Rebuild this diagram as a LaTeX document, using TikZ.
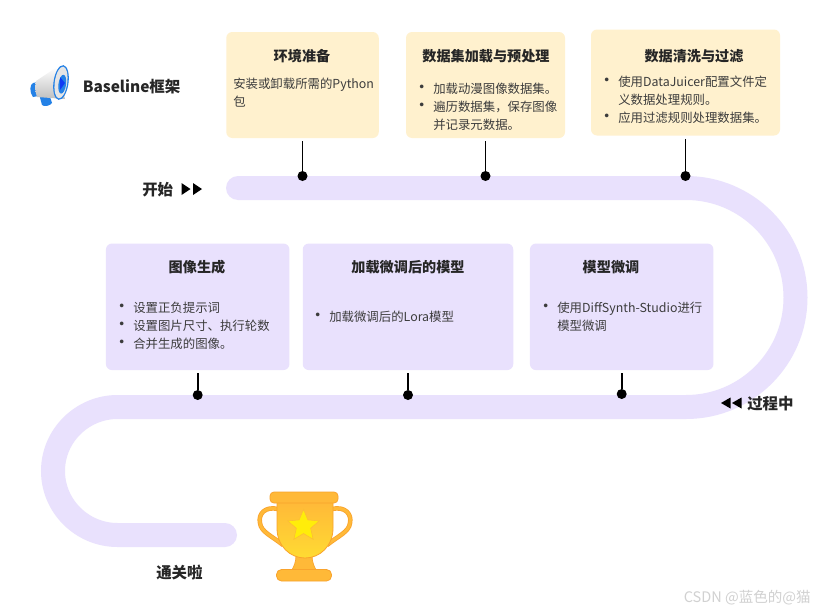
\documentclass[tikz,border=0pt]{standalone}
\usepackage{fontspec}
\setmainfont{Noto Sans CJK SC}
\usetikzlibrary{shapes.geometric}
\newdimen\pxu \pxu=0.75pt
\newcommand{\bul}[1]{\makebox[0pt][r]{\makebox[0pt][c]{\raisebox{-0.5\pxu}{\fontsize{13pt}{13pt}\selectfont •}}\hspace{#1\pxu}}}
\definecolor{ybg}{HTML}{FFF1CE}
\definecolor{pbg}{HTML}{E9E1FD}
\definecolor{ink}{HTML}{262626}
\definecolor{tgold}{HTML}{FFB938}
\definecolor{tedge}{HTML}{F9A32C}
\definecolor{tlight}{HTML}{FFD23F}
\definecolor{blu}{HTML}{2481E6}
\tikzset{
  x=0.75pt,y=-0.75pt,
  card/.style={draw=none,rounded corners=6*\pxu,inner sep=0pt,minimum width=#1*\pxu},
  ycard/.style={card=#1,fill=ybg,minimum height=106*\pxu},
  pcard/.style={card=#1,fill=pbg,minimum height=126.5*\pxu},
  ctitle/.style={inner sep=0pt,text=ink,font=\fontsize{10.6pt}{13pt}\selectfont\bfseries},
  cbody/.style={inner sep=0pt,anchor=west,align=left,text=ink!90,font=\fontsize{9.3pt}{13.5pt}\selectfont},
  clabel/.style={inner sep=0pt,anchor=west,text=ink,font=\fontsize{11.6pt}{14pt}\selectfont\bfseries},
  pin/.style={circle,fill=black,inner sep=0pt,minimum size=10*\pxu},
  stem/.style={draw=black,line width=1.2pt,shorten <=3*\pxu},
  band/.style={draw=pbg,line width=18pt,line cap=round},
  tri/.style={fill=black}
}
\begin{document}
\begin{tikzpicture}
\useasboundingbox[fill=white] (0,0) rectangle (824,614);
% ribbon
\draw[band] (238,188) -- (686,188)
  .. controls (746.5,188) and (795.5,237) .. (795.5,297.5)
  .. controls (795.5,358) and (746.5,407) .. (686,407)
  -- (117.5,407)
  .. controls (82.2,407) and (53,435.7) .. (53,471)
  .. controls (53,506.3) and (82.2,535) .. (117.5,535)
  -- (225,535);
% cards
\node[ycard=152.5] (envbox) at (302.5,85) {};
\node[ycard=159] (loadbox) at (485.5,85) {};
\node[ycard=189] (cleanbox) at (685.5,82.5) {};
\node[pcard=183.5] (genbox) at (197.7,306.8) {};
\node[pcard=210.5] (lorabox) at (408,306.8) {};
\node[pcard=183.5] (tunebox) at (621.7,306.8) {};
% pins
\node[pin] (p1) at (302.5,176) {};
\node[pin] (p2) at (485.5,176) {};
\node[pin] (p3) at (685.5,176) {};
\node[pin] (p4) at (197.7,395) {};
\node[pin] (p5) at (408,395) {};
\node[pin] (p6) at (621.7,394) {};
\draw[stem] (envbox.south) -- (p1);
\draw[stem] (loadbox.south) -- (p2);
\draw[stem] (cleanbox.south) -- (p3);
\draw[stem] (genbox.south) -- (p4);
\draw[stem] (lorabox.south) -- (p5);
\draw[stem] (tunebox.south) -- (p6);
% titles
\node[ctitle] (t1) at (302,56) {环境准备};
\node[ctitle] (t2) at (486,56) {数据集加载与预处理};
\node[ctitle] (t3) at (694,56) {数据清洗与过滤};
\node[ctitle] (t4) at (197,267) {图像生成};
\node[ctitle] (t5) at (408,267) {加载微调后的模型};
\node[ctitle] (t6) at (611,267) {模型微调};
% bodies
\node[cbody] (b1) at (233,93) {安装或卸载所需的Python\\包};
\node[cbody] (b2) at (433,106.5) {\bul{11}加载动漫图像数据集。\\\bul{11}遍历数据集，保存图像\\并记录元数据。};
\node[cbody] (b3) at (618,99.5) {\bul{11}使用DataJuicer配置文件定\\义数据处理规则。\\\bul{11}应用过滤规则处理数据集。};
\node[cbody] (b4) at (133,325.5) {\bul{11}设置正负提示词\\\bul{11}设置图片尺寸、执行轮数\\\bul{11}合并生成的图像。};
\node[cbody] (b5) at (329,316.5) {\bul{11}加载微调后的Lora模型};
\node[cbody] (b6) at (557,316.5) {\bul{11}使用DiffSynth-Studio进行\\模型微调};
% side labels
\node[clabel] (l0) at (82.5,86.5) {Baseline框架};
\node[clabel] (l1) at (142,189.5) {开始};
\node[clabel] (l2) at (747,404) {过程中};
\node[clabel] (l3) at (156,572) {通关啦};
\fill[tri] (181.5,183) -- (190.5,189) -- (181.5,195) -- cycle;
\fill[tri] (193,183) -- (202,189) -- (193,195) -- cycle;
\fill[tri] (730.5,397.5) -- (721,403) -- (730.5,408.5) -- cycle;
\fill[tri] (741.5,397.5) -- (732,403) -- (741.5,408.5) -- cycle;
% watermark
\node[inner sep=0pt,anchor=east,text=black!18,font=\fontsize{10.9pt}{12pt}\selectfont] (wm) at (811,598) {CSDN @蓝色的@猫};
% megaphone
\fill[blu] (39,94) -- (48,91) -- (52,103) .. controls (50,106) and (44,107) .. (42,105) -- cycle;
\fill[blu] (33,83) .. controls (30,84) and (29,92) .. (33,97) -- (38,96) -- (38,82) -- cycle;
\shade[top color=white,bottom color=black!25] (36,81) -- (57,67) -- (65,99) -- (37,97) .. controls (35,92) and (35,86) .. (36,81) -- cycle;
\begin{scope}[rotate around={-8:(61,82.5)}]
\fill[blu] (61,82.5) ellipse [x radius=7.5*\pxu,y radius=17.5*\pxu];
\fill[black!10] (61,82.5) ellipse [x radius=6.2*\pxu,y radius=16*\pxu];
\fill[blu] (62.5,84) ellipse [x radius=3.8*\pxu,y radius=9.5*\pxu];
\end{scope}
\fill[blue!55!blu] (60,77) -- (65,83) -- (60,90) -- cycle;
% trophy
\draw[tedge,line width=3.4pt,line join=round] (278,509) .. controls (265,506) and (258,514) .. (260,523) .. controls (261,532) and (272,536) .. (283,545);
\draw[tgold,line width=2.2pt] (278,509) .. controls (265,506) and (258,514) .. (260,523) .. controls (261,532) and (272,536) .. (283,545);
\draw[tedge,line width=3.4pt,line join=round] (332,509) .. controls (345,506) and (352,514) .. (350,523) .. controls (349,532) and (338,536) .. (327,545);
\draw[tgold,line width=2.2pt] (332,509) .. controls (345,506) and (352,514) .. (350,523) .. controls (349,532) and (338,536) .. (327,545);
\fill[tgold,draw=tedge,line width=0.5pt] (296,555) .. controls (296,562) and (294,566) .. (292,570) -- (316,570) .. controls (314,566) and (312,562) .. (312,555) -- cycle;
\shade[top color=tgold,bottom color=tlight!80!yellow,draw=tedge,line width=0.6pt] (277,502) -- (333,502) -- (333,528) .. controls (333,546) and (320,558) .. (305,558) .. controls (290,558) and (277,546) .. (277,528) -- cycle;
\fill[tgold,draw=tedge,line width=0.6pt,rounded corners=4*\pxu] (270,492) rectangle (338,503);
\fill[tgold,draw=tedge,line width=0.6pt,rounded corners=5*\pxu] (276.5,569.5) rectangle (331.5,581);
\node[star,star points=5,star point ratio=2.2,fill=yellow!85!tlight,draw=tedge!50!tlight,line width=0.4pt,inner sep=0pt,minimum size=33*\pxu] (trophystar) at (303.5,526) {};
\end{tikzpicture}
\end{document}
